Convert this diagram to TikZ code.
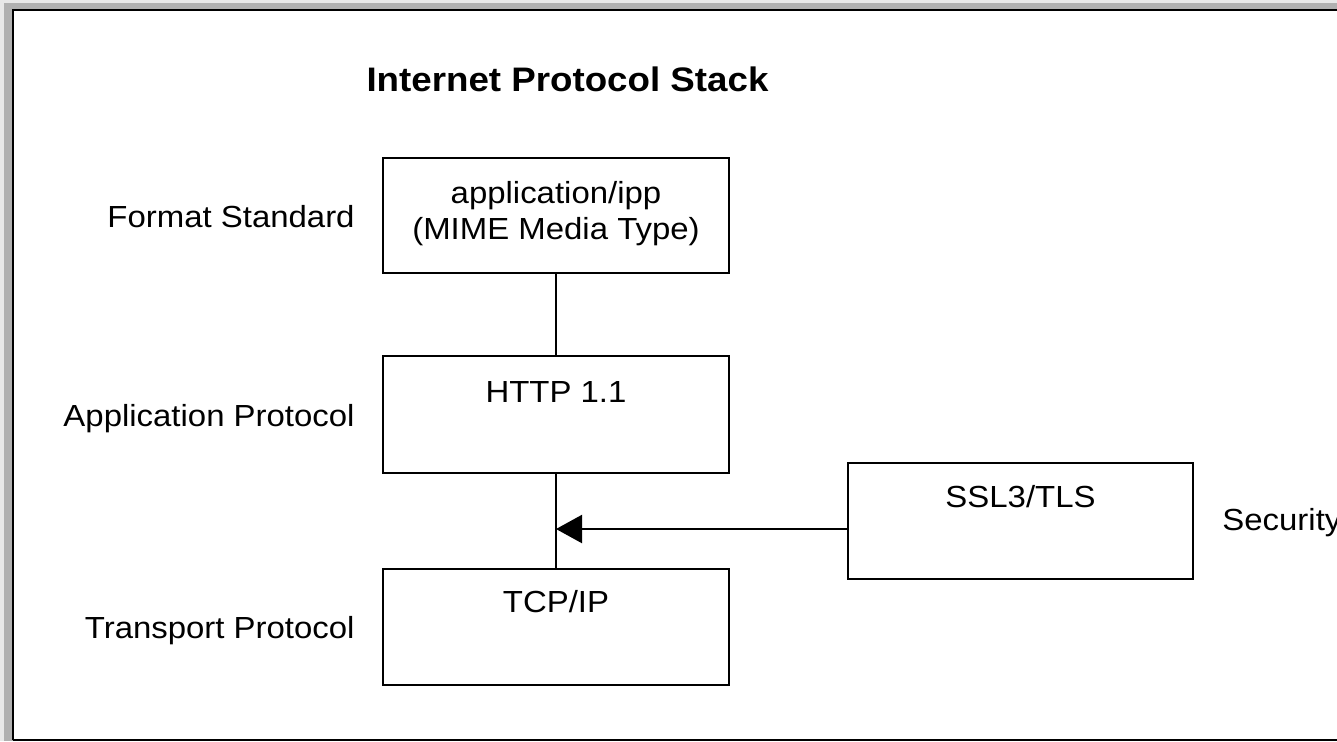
\documentclass[tikz,border=0pt]{standalone}
\usepackage{fontspec}
\setmainfont{Liberation Sans}
\usepackage{graphicx}
\usetikzlibrary{arrows.meta}
\newcommand{\hs}[1]{\scalebox{1.08}[1]{#1}}
\begin{document}
\begin{tikzpicture}[x=0.5pt,y=-0.5pt,
  box/.style={draw,line width=1.1pt,inner sep=0pt,rectangle},
  txt/.style={inner sep=0pt,anchor=base,font=\fontsize{15.25pt}{18pt}\selectfont},
  lbl/.style={inner sep=0pt,anchor=base east,font=\fontsize{15.25pt}{18pt}\selectfont},
  conn/.style={line width=1.1pt}]
\useasboundingbox (0,0) rectangle (1337,741);
% window frame
\fill[black!9] (0,0) rectangle (1337,741);
\fill[black!31] (4,3) rectangle (1337,741);
\fill[white] (13,10) rectangle (1337,740);
\draw[line width=1.3pt] (13,740) -- (13,10) -- (1337,10);
\draw[line width=1.3pt] (13,740) -- (1337,740);
% title
\node[inner sep=0pt,anchor=base,font=\fontsize{17pt}{20pt}\selectfont\bfseries] (title) at (567.5,91) {\hs{Internet Protocol Stack}};
% boxes
\node[box,minimum width=173pt,minimum height=57.5pt] (ipp) at (556,215.5) {};
\node[box,minimum width=173pt,minimum height=58.5pt] (http) at (556,414.5) {};
\node[box,minimum width=173pt,minimum height=58pt] (tcp) at (556,627) {};
\node[box,minimum width=172.5pt,minimum height=58pt] (ssl) at (1020.5,521) {};
% box texts
\node[txt] (ipp1) at (556,203) {\hs{application/ipp}};
\node[txt] (ipp2) at (556,239) {\hs{(MIME Media Type)}};
\node[txt] (httpt) at (556,402) {\hs{HTTP 1.1}};
\node[txt] (tcpt) at (556,612) {\hs{TCP/IP}};
\node[txt] (sslt) at (1020.5,507) {\hs{SSL3/TLS}};
% left labels
\node[lbl] (l1) at (355,227) {\hs{Format Standard}};
\node[lbl] (l2) at (355,426) {\hs{Application Protocol}};
\node[lbl] (l3) at (355,638) {\hs{Transport Protocol}};
\node[txt,anchor=base west] (l4) at (1222,530) {\hs{Security}};
% connectors
\draw[conn] (ipp.south) -- (http.north);
\draw[conn] (http.south) -- (tcp.north);
\coordinate (aend) at (556,529);
\draw[conn,-{Triangle[length=13pt,width=14pt]}] (ssl.west |- aend) -- (aend);
\end{tikzpicture}
\end{document}
